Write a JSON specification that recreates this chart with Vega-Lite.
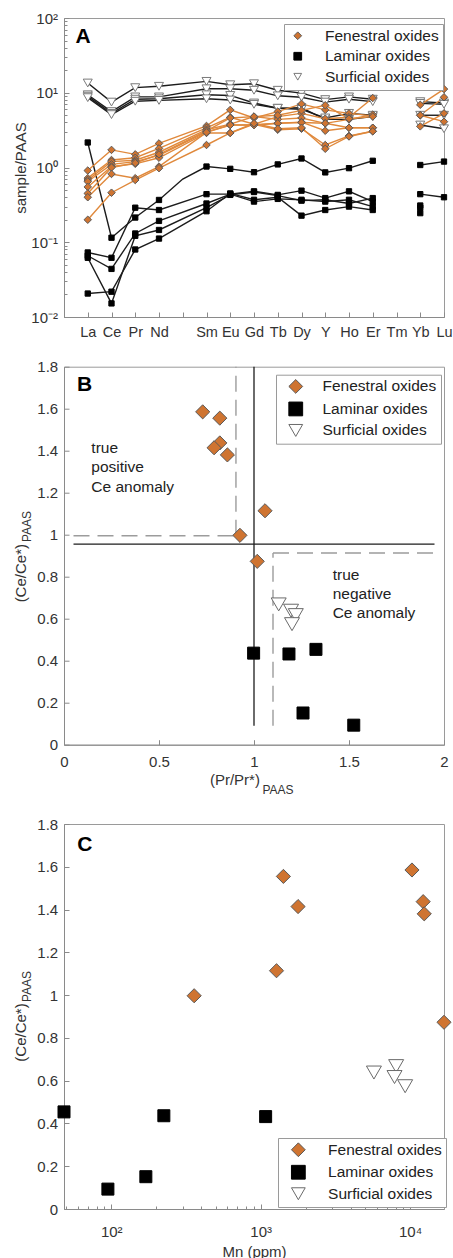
{
  "$schema": "https://vega.github.io/schema/vega-lite/v6.json",
  "background": "white",
  "padding": {"left": 13, "top": 10, "right": 0, "bottom": 0},
  "bounds": "flush",
  "spacing": 49.7,
  "resolve": {"scale": {"fill": "independent", "stroke": "independent", "shape": "independent"}, "legend": {"fill": "independent", "stroke": "independent", "shape": "independent"}},
  "config": {
    "font": "Liberation Sans",
    "view": {"stroke": "#9a9a9a", "strokeWidth": 1},
    "axis": {"grid": false, "labelOverlap": false, "domainColor": "#8a8a8a", "tickColor": "#8a8a8a", "labelColor": "#333333", "titleColor": "#333333", "labelFontSize": 15, "titleFontSize": 15, "titleFontWeight": "normal", "labelFont": "Liberation Sans", "titleFont": "Liberation Sans"},
    "legend": {"labelFont": "Liberation Sans", "labelFontSize": 15.5, "labelColor": "#222222", "strokeColor": "#9a9a9a", "fillColor": "#ffffff", "cornerRadius": 0},
    "text": {"font": "Liberation Sans"}
  },
  "datasets": {
    "ree": [
      {"s": "L1", "g": "Laminar oxides", "La": 2.16, "Ce": 0.115, "Pr": 0.214, "Nd": 0.368, "Pm": 0.7, "Sm": 1.03, "Eu": 0.96, "Gd": 0.865, "Tb": 1.1, "Dy": 1.32, "Y": 0.86, "Ho": 0.98, "Er": 1.23, "Yb": 1.08, "Lu": 1.2},
      {"s": "L2", "g": "Laminar oxides", "La": 0.073, "Ce": 0.062, "Pr": 0.29, "Nd": 0.27, "Sm": 0.44, "Eu": 0.44, "Gd": 0.48, "Tb": 0.43, "Dy": 0.49, "Y": 0.39, "Ho": 0.48, "Er": 0.35, "Yb": 0.44, "Lu": 0.4},
      {"s": "L3", "g": "Laminar oxides", "La": 0.066, "Ce": 0.044, "Pr": 0.131, "Nd": 0.193, "Sm": 0.33, "Eu": 0.44, "Gd": 0.35, "Tb": 0.38, "Dy": 0.37, "Y": 0.35, "Ho": 0.37, "Er": 0.3, "Yb": 0.31},
      {"s": "L4", "g": "Laminar oxides", "La": 0.062, "Ce": 0.0152, "Pr": 0.122, "Nd": 0.146, "Sm": 0.29, "Eu": 0.43, "Gd": 0.47, "Tb": 0.42, "Dy": 0.36, "Y": 0.37, "Ho": 0.33, "Er": 0.39, "Yb": 0.245},
      {"s": "L5", "g": "Laminar oxides", "La": 0.0206, "Ce": 0.0218, "Pr": 0.08, "Nd": 0.112, "Sm": 0.26, "Eu": 0.45, "Gd": 0.37, "Tb": 0.4, "Dy": 0.227, "Y": 0.27, "Ho": 0.3, "Er": 0.27, "Yb": 0.29},
      {"s": "S1", "g": "Surficial oxides", "La": 13.5, "Ce": 7.5, "Pr": 11.7, "Nd": 12.2, "Sm": 14.2, "Eu": 12.8, "Gd": 13.2, "Tb": 10.8, "Dy": 9.9, "Y": 8.1, "Ho": 8.8, "Er": 8.2, "Yb": 7.6, "Lu": 7.3},
      {"s": "S2", "g": "Surficial oxides", "La": 9.4, "Ce": 5.6, "Pr": 8.8, "Nd": 8.8, "Sm": 11.3, "Eu": 11.3, "Gd": 10.8, "Tb": 9.1, "Dy": 8.7, "Y": 7.5, "Ho": 8.2, "Er": 7.6, "Yb": 7.2, "Lu": 7.0},
      {"s": "S3", "g": "Surficial oxides", "La": 9.0, "Ce": 5.3, "Pr": 8.2, "Nd": 8.3, "Sm": 9.4, "Eu": 9.2, "Gd": 7.3, "Tb": 6.2, "Dy": 6.3, "Y": 4.4, "Ho": 4.4, "Er": 4.8, "Yb": 5.0, "Lu": 5.0},
      {"s": "S4", "g": "Surficial oxides", "La": 8.6, "Ce": 5.1, "Pr": 7.7, "Nd": 7.9, "Sm": 8.3, "Eu": 8.0, "Gd": 7.0, "Tb": 6.2, "Dy": 6.0, "Y": 4.6, "Ho": 5.3, "Er": 5.0, "Yb": 3.7, "Lu": 3.3},
      {"s": "F1", "g": "Fenestral oxides", "La": 0.91, "Ce": 1.72, "Pr": 1.5, "Nd": 2.1, "Sm": 3.6, "Eu": 5.9, "Gd": 4.6, "Tb": 5.6, "Dy": 7.1, "Y": 5.9, "Ho": 5.3, "Er": 4.9, "Yb": 6.9, "Lu": 11.2},
      {"s": "F2", "g": "Fenestral oxides", "La": 0.72, "Ce": 1.26, "Pr": 1.35, "Nd": 1.8, "Sm": 3.4, "Eu": 4.7, "Gd": 3.8, "Tb": 4.8, "Dy": 5.3, "Y": 4.5, "Ho": 4.7, "Er": 8.5, "Yb": 5.0, "Lu": 8.7},
      {"s": "F3", "g": "Fenestral oxides", "La": 0.68, "Ce": 1.2, "Pr": 1.25, "Nd": 1.6, "Sm": 3.2, "Eu": 3.8, "Gd": 4.8, "Tb": 4.4, "Dy": 4.6, "Y": 3.9, "Ho": 4.4, "Er": 5.1, "Yb": 3.55, "Lu": 5.3},
      {"s": "F4", "g": "Fenestral oxides", "La": 0.65, "Ce": 1.1, "Pr": 1.2, "Nd": 1.45, "Sm": 3.0, "Eu": 3.7, "Gd": 3.7, "Tb": 3.9, "Dy": 4.05, "Y": 3.1, "Ho": 3.4, "Er": 3.4, "Yb": 5.0, "Lu": 4.1},
      {"s": "F5", "g": "Fenestral oxides", "La": 0.55, "Ce": 1.03, "Pr": 1.12, "Nd": 1.35, "Sm": 2.9, "Eu": 2.9, "Gd": 3.8, "Tb": 3.2, "Dy": 3.3, "Y": 2.0, "Ho": 2.65, "Er": 3.05},
      {"s": "F6", "g": "Fenestral oxides", "La": 0.45, "Ce": 1.0, "Pr": 1.15, "Nd": 1.5, "Sm": 3.1, "Eu": 4.6, "Gd": 4.8, "Tb": 5.0, "Dy": 5.8, "Y": 6.8, "Ho": 4.5, "Er": 4.8},
      {"s": "F7", "g": "Fenestral oxides", "La": 0.4, "Ce": 0.82, "Pr": 0.72, "Nd": 1.03, "Sm": 2.95, "Eu": 3.7, "Gd": 3.7, "Tb": 3.9, "Dy": 4.0, "Y": 3.9, "Ho": 3.4, "Er": 3.4},
      {"s": "F8", "g": "Fenestral oxides", "La": 0.2, "Ce": 0.46, "Pr": 0.68, "Nd": 0.98, "Sm": 2.0, "Eu": 2.9, "Gd": 3.9, "Tb": 3.3, "Dy": 3.4, "Y": 1.78, "Ho": 2.6, "Er": 3.05}
    ],
    "ratios": [
      {"g": "Fenestral oxides", "pr": 0.73, "ce": 1.585, "mn": 10300},
      {"g": "Fenestral oxides", "pr": 0.82, "ce": 1.555, "mn": 1420},
      {"g": "Fenestral oxides", "pr": 0.82, "ce": 1.437, "mn": 12240},
      {"g": "Fenestral oxides", "pr": 0.79, "ce": 1.414, "mn": 1780},
      {"g": "Fenestral oxides", "pr": 0.86, "ce": 1.38, "mn": 12440},
      {"g": "Fenestral oxides", "pr": 1.058, "ce": 1.114, "mn": 1277},
      {"g": "Fenestral oxides", "pr": 0.926, "ce": 0.997, "mn": 359},
      {"g": "Fenestral oxides", "pr": 1.017, "ce": 0.873, "mn": 16870},
      {"g": "Laminar oxides", "pr": 0.998, "ce": 0.436, "mn": 225},
      {"g": "Laminar oxides", "pr": 1.184, "ce": 0.432, "mn": 1080},
      {"g": "Laminar oxides", "pr": 1.326, "ce": 0.454, "mn": 48.3},
      {"g": "Laminar oxides", "pr": 1.258, "ce": 0.151, "mn": 170.5},
      {"g": "Laminar oxides", "pr": 1.525, "ce": 0.093, "mn": 95},
      {"g": "Surficial oxides", "pr": 1.13, "ce": 0.668, "mn": 8070},
      {"g": "Surficial oxides", "pr": 1.195, "ce": 0.638, "mn": 5730},
      {"g": "Surficial oxides", "pr": 1.22, "ce": 0.617, "mn": 7870},
      {"g": "Surficial oxides", "pr": 1.2, "ce": 0.574, "mn": 9270}
    ]
  },
  "vconcat": [
    {
      "width": 380,
      "height": 299,
      "data": {"name": "ree"},
      "layer": [
        {
          "transform": [{"fold": ["La", "Ce", "Pr", "Nd", "Pm", "Sm", "Eu", "Gd", "Tb", "Dy", "Y", "Ho", "Er"], "as": ["el", "v"]}, {"filter": "isValid(datum.v)"}],
          "mark": {"type": "line", "strokeWidth": 1.4},
          "encoding": {
            "x": {"field": "el", "type": "nominal", "title": null,
              "scale": {"type": "point", "padding": 0, "domain": [" ", "La", "Ce", "Pr", "Nd", "Pm", "Sm", "Eu", "Gd", "Tb", "Dy", "Y", "Ho", "Er", "Tm", "Yb", "Lu"]},
              "axis": {"title": null, "labelExpr": "datum.value == 'Pm' || datum.value == ' ' ? '' : datum.label", "labelAngle": 0, "labelOverlap": false, "labelFlush": false, "tickSize": -5, "labelPadding": 13.5, "labelBaseline": "top", "labelFontSize": 14.5,
                "encode": {"labels": {"update": {"dx": {"signal": "datum.value == 'Lu' ? -4.5 : 0"}}}}}},
            "y": {"field": "v", "type": "quantitative", "title": "sample/PAAS",
              "scale": {"type": "log", "domain": [0.01, 100], "nice": false},
              "axis": {"title": "sample/PAAS", "titlePadding": 2,
                "values": [0.01, 0.02, 0.03, 0.04, 0.05, 0.06, 0.07, 0.08, 0.09, 0.1, 0.2, 0.3, 0.4, 0.5, 0.6, 0.7, 0.8, 0.9, 1, 2, 3, 4, 5, 6, 7, 8, 9, 10, 20, 30, 40, 50, 60, 70, 80, 90, 100],
                "labelExpr": "datum.value == 100 ? '10²' : datum.value == 10 ? '10¹' : datum.value == 1 ? '10⁰' : datum.value == 0.1 ? '10⁻¹' : datum.value == 0.01 ? '10⁻²' : ''",
                "tickSize": {"condition": {"test": "indexof([0.01, 0.1, 1, 10, 100], datum.value) >= 0", "value": -5}, "value": -3},
                "labelPadding": 11.5}},
            "color": {"condition": {"test": "datum.g == 'Fenestral oxides'", "value": "#E0893C"}, "value": "#1c1c1c"},
            "detail": {"field": "s"},
            "order": {"value": null}
          }
        },
        {
          "transform": [{"fold": ["Yb", "Lu"], "as": ["el", "v"]}, {"filter": "isValid(datum.v)"}],
          "mark": {"type": "line", "strokeWidth": 1.4},
          "encoding": {
            "x": {"field": "el", "type": "nominal", "title": null, "scale": {"type": "point", "padding": 0, "domain": [" ", "La", "Ce", "Pr", "Nd", "Pm", "Sm", "Eu", "Gd", "Tb", "Dy", "Y", "Ho", "Er", "Tm", "Yb", "Lu"]}},
            "y": {"field": "v", "type": "quantitative", "title": "sample/PAAS", "scale": {"type": "log", "domain": [0.01, 100], "nice": false}},
            "color": {"condition": {"test": "datum.g == 'Fenestral oxides'", "value": "#E0893C"}, "value": "#1c1c1c"},
            "detail": {"field": "s"},
            "order": {"value": null}
          }
        },
        {
          "transform": [{"fold": ["La", "Ce", "Pr", "Nd", "Sm", "Eu", "Gd", "Tb", "Dy", "Y", "Ho", "Er", "Yb", "Lu"], "as": ["el", "v"]}, {"filter": "isValid(datum.v)"}],
          "mark": {"type": "point", "filled": true, "opacity": 1, "strokeWidth": 1},
          "encoding": {
            "x": {"field": "el", "type": "nominal", "title": null, "scale": {"type": "point", "padding": 0, "domain": [" ", "La", "Ce", "Pr", "Nd", "Pm", "Sm", "Eu", "Gd", "Tb", "Dy", "Y", "Ho", "Er", "Tm", "Yb", "Lu"]}},
            "y": {"field": "v", "type": "quantitative", "title": "sample/PAAS", "scale": {"type": "log", "domain": [0.01, 100], "nice": false}},
            "fill": {"field": "g", "type": "nominal", "scale": {"domain": ["Fenestral oxides", "Laminar oxides", "Surficial oxides"], "range": ["#CF7431", "#000000", "#ffffff"]},
              "legend": {"title": null, "orient": "none", "legendX": 220, "legendY": 6, "padding": 4, "rowPadding": 3.5, "symbolOffset": 2, "labelOffset": 19.5, "symbolStrokeWidth": 1, "symbolSize": 60}},
            "stroke": {"field": "g", "type": "nominal", "scale": {"domain": ["Fenestral oxides", "Laminar oxides", "Surficial oxides"], "range": ["#5a5a5a", "#000000", "#7a7a7a"]}},
            "shape": {"field": "g", "type": "nominal", "scale": {"domain": ["Fenestral oxides", "Laminar oxides", "Surficial oxides"], "range": ["diamond", "square", "triangle-down"]}},
            "size": {"condition": [{"test": "datum.g == 'Laminar oxides'", "value": 28}, {"test": "datum.g == 'Surficial oxides'", "value": 81}], "value": 56}
          }
        },
        {
          "data": {"values": [{"t": "A"}]},
          "mark": {"type": "text", "fontSize": 21, "fontWeight": "bold", "fill": "#000000", "align": "left", "baseline": "alphabetic", "dx": 11.5},
          "encoding": {
            "text": {"field": "t", "type": "nominal"},
            "x": {"datum": " ", "type": "nominal", "scale": {"type": "point", "padding": 0, "domain": [" ", "La", "Ce", "Pr", "Nd", "Pm", "Sm", "Eu", "Gd", "Tb", "Dy", "Y", "Ho", "Er", "Tm", "Yb", "Lu"]}},
            "y": {"datum": 46.4, "type": "quantitative", "scale": {"type": "log", "domain": [0.01, 100], "nice": false}}
          }
        }
      ]
    },
    {
      "bounds": "flush",
      "spacing": 79.3,
      "resolve": {"scale": {"fill": "independent", "stroke": "independent", "shape": "independent"}, "legend": {"fill": "independent", "stroke": "independent", "shape": "independent"}},
      "vconcat": [
        {
          "width": 380,
          "height": 378,
          "layer": [
            {
              "data": {"values": [{"pr": 1, "pr2": 1, "ce": 0.09, "ce2": 1.8}, {"pr": 0.05, "pr2": 1.95, "ce": 0.955, "ce2": 0.955}]},
              "mark": {"type": "rule", "color": "#1c1c1c", "strokeWidth": 1.3},
              "encoding": {
                "x": {"field": "pr", "type": "quantitative", "title": null,
                  "scale": {"domain": [0, 2], "nice": false, "zero": false},
                  "axis": {"title": null, "labelOverlap": false, "values": [0, 0.5, 1, 1.5, 2], "format": "~g",
                    "tickSize": -5, "labelPadding": 15, "labelFlush": false}},
                "y": {"field": "ce", "type": "quantitative", "title": "(Ce/Ce*)",
                  "scale": {"domain": [0, 1.8], "nice": false, "zero": false},
                  "axis": {"title": "(Ce/Ce*)", "titleY": 206, "titlePadding": 8, "labelOverlap": false,
                    "values": [0, 0.05, 0.1, 0.15, 0.2, 0.25, 0.3, 0.35, 0.4, 0.45, 0.5, 0.55, 0.6, 0.65, 0.7, 0.75, 0.8, 0.85, 0.9, 0.95, 1, 1.05, 1.1, 1.15, 1.2, 1.25, 1.3, 1.35, 1.4, 1.45, 1.5, 1.55, 1.6, 1.65, 1.7, 1.75, 1.8],
                    "labelExpr": "abs(datum.value * 5 - round(datum.value * 5)) < 0.001 ? format(datum.value, '~g') : ''",
                    "tickSize": {"condition": {"test": "abs(datum.value * 5 - round(datum.value * 5)) < 0.001", "value": -5}, "value": -3},
                    "labelPadding": 11.3, "labelFlush": false}},
                "x2": {"field": "pr2"},
                "y2": {"field": "ce2"}
              }
            },
            {
              "data": {"values": [{"pr": 0.905, "pr2": 0.905, "ce": 0.995, "ce2": 1.8}, {"pr": 0.05, "pr2": 0.905, "ce": 0.995, "ce2": 0.995}, {"pr": 1.1, "pr2": 1.95, "ce": 0.913, "ce2": 0.913}, {"pr": 1.1, "pr2": 1.1, "ce": 0.09, "ce2": 0.913}]},
              "mark": {"type": "rule", "color": "#9c9c9c", "strokeWidth": 1.4, "strokeDash": [16, 8]},
              "encoding": {
                "x": {"field": "pr", "type": "quantitative", "title": null, "scale": {"domain": [0, 2], "nice": false, "zero": false}},
                "y": {"field": "ce", "type": "quantitative", "title": "(Ce/Ce*)", "scale": {"domain": [0, 1.8], "nice": false, "zero": false}},
                "x2": {"field": "pr2"},
                "y2": {"field": "ce2"}
              }
            },
            {
              "data": {"name": "ratios"},
              "mark": {"type": "point", "filled": true, "opacity": 1, "strokeWidth": 1},
              "encoding": {
                "x": {"field": "pr", "type": "quantitative", "title": null, "scale": {"domain": [0, 2], "nice": false, "zero": false}},
                "y": {"field": "ce", "type": "quantitative", "title": "(Ce/Ce*)", "scale": {"domain": [0, 1.8], "nice": false, "zero": false}},
                "fill": {"field": "g", "type": "nominal", "scale": {"domain": ["Fenestral oxides", "Laminar oxides", "Surficial oxides"], "range": ["#CF7431", "#000000", "#ffffff"]},
                  "legend": {"title": null, "orient": "none", "legendX": 212, "legendY": 8, "padding": 4, "rowPadding": 3.5, "symbolOffset": 8, "labelOffset": 19, "symbolStrokeWidth": 1, "symbolSize": 190}},
                "stroke": {"field": "g", "type": "nominal", "scale": {"domain": ["Fenestral oxides", "Laminar oxides", "Surficial oxides"], "range": ["#5a5a5a", "#000000", "#6a6a6a"]}},
                "shape": {"field": "g", "type": "nominal", "scale": {"domain": ["Fenestral oxides", "Laminar oxides", "Surficial oxides"], "range": ["diamond", "square", "triangle-down"]}},
                "size": {"condition": [{"test": "datum.g == 'Laminar oxides'", "value": 144}, {"test": "datum.g == 'Surficial oxides'", "value": 225}], "value": 200}
              }
            },
            {
              "data": {"values": [{"t": "true\npositive\nCe anomaly"}]},
              "mark": {"type": "text", "lineBreak": "\n", "lineHeight": 19.3, "fontSize": 15.5, "fill": "#222222", "align": "left", "baseline": "alphabetic"},
              "encoding": {"text": {"field": "t", "type": "nominal"}, "x": {"datum": 0.144, "type": "quantitative", "scale": {"domain": [0, 2], "nice": false, "zero": false}}, "y": {"datum": 1.389, "type": "quantitative", "scale": {"domain": [0, 1.8], "nice": false, "zero": false}}}
            },
            {
              "data": {"values": [{"t": "true\nnegative\nCe anomaly"}]},
              "mark": {"type": "text", "lineBreak": "\n", "lineHeight": 19.3, "fontSize": 15.5, "fill": "#222222", "align": "left", "baseline": "alphabetic"},
              "encoding": {"text": {"field": "t", "type": "nominal"}, "x": {"datum": 1.414, "type": "quantitative", "scale": {"domain": [0, 2], "nice": false, "zero": false}}, "y": {"datum": 0.786, "type": "quantitative", "scale": {"domain": [0, 1.8], "nice": false, "zero": false}}}
            },
            {
              "data": {"values": [{"t": "B"}]},
              "mark": {"type": "text", "fontSize": 21, "fontWeight": "bold", "fill": "#000000", "align": "left", "baseline": "alphabetic"},
              "encoding": {"text": {"field": "t", "type": "nominal"}, "x": {"datum": 0.068, "type": "quantitative", "scale": {"domain": [0, 2], "nice": false, "zero": false}}, "y": {"datum": 1.684, "type": "quantitative", "scale": {"domain": [0, 1.8], "nice": false, "zero": false}}}
            },
            {
              "data": {"values": [{"t": "(Pr/Pr*)"}]},
              "mark": {"type": "text", "fontSize": 15, "fill": "#333333", "align": "left", "baseline": "alphabetic"},
              "encoding": {"text": {"field": "t", "type": "nominal"}, "x": {"datum": 0.768, "type": "quantitative", "scale": {"domain": [0, 2], "nice": false, "zero": false}}, "y": {"datum": -0.19, "type": "quantitative", "scale": {"domain": [0, 1.8], "nice": false, "zero": false}}}
            },
            {
              "data": {"values": [{"t": "PAAS"}]},
              "mark": {"type": "text", "fontSize": 12, "fill": "#333333", "align": "center", "baseline": "alphabetic"},
              "encoding": {"text": {"field": "t", "type": "nominal"}, "x": {"datum": 1.126, "type": "quantitative", "scale": {"domain": [0, 2], "nice": false, "zero": false}}, "y": {"datum": -0.235, "type": "quantitative", "scale": {"domain": [0, 1.8], "nice": false, "zero": false}}}
            },
            {
              "data": {"values": [{"t": "PAAS"}]},
              "mark": {"type": "text", "fontSize": 12, "fill": "#333333", "align": "center", "baseline": "middle", "angle": 270},
              "encoding": {"text": {"field": "t", "type": "nominal"}, "x": {"datum": -0.195, "type": "quantitative", "scale": {"domain": [0, 2], "nice": false, "zero": false}}, "y": {"datum": 1.039, "type": "quantitative", "scale": {"domain": [0, 1.8], "nice": false, "zero": false}}}
            }
          ]
        },
        {
          "width": 380,
          "height": 385,
          "layer": [
            {
              "data": {"name": "ratios"},
              "mark": {"type": "point", "filled": true, "opacity": 1, "strokeWidth": 1},
              "encoding": {
                "x": {"field": "mn", "type": "quantitative", "title": "Mn (ppm)",
                  "scale": {"type": "log", "domain": [48.3, 16870], "nice": false},
                  "axis": {"title": "Mn (ppm)", "titlePadding": 3, "labelOverlap": false,
                    "values": [50, 60, 70, 80, 90, 100, 200, 300, 400, 500, 600, 700, 800, 900, 1000, 2000, 3000, 4000, 5000, 6000, 7000, 8000, 9000, 10000],
                    "labelExpr": "datum.value == 100 ? '10²' : datum.value == 1000 ? '10³' : datum.value == 10000 ? '10⁴' : ''",
                    "tickSize": {"condition": {"test": "indexof([100, 1000, 10000], datum.value) >= 0", "value": -5}, "value": -3},
                    "labelPadding": 20, "labelFlush": false}},
                "y": {"field": "ce", "type": "quantitative", "title": "(Ce/Ce*)",
                  "scale": {"domain": [0, 1.8], "nice": false, "zero": false},
                  "axis": {"title": "(Ce/Ce*)", "titleY": 208, "titlePadding": 8, "labelOverlap": false,
                    "values": [0, 0.05, 0.1, 0.15, 0.2, 0.25, 0.3, 0.35, 0.4, 0.45, 0.5, 0.55, 0.6, 0.65, 0.7, 0.75, 0.8, 0.85, 0.9, 0.95, 1, 1.05, 1.1, 1.15, 1.2, 1.25, 1.3, 1.35, 1.4, 1.45, 1.5, 1.55, 1.6, 1.65, 1.7, 1.75, 1.8],
                    "labelExpr": "abs(datum.value * 5 - round(datum.value * 5)) < 0.001 ? format(datum.value, '~g') : ''",
                    "tickSize": {"condition": {"test": "abs(datum.value * 5 - round(datum.value * 5)) < 0.001", "value": -5}, "value": -3},
                    "labelPadding": 11.3, "labelFlush": false}},
                "fill": {"field": "g", "type": "nominal", "scale": {"domain": ["Fenestral oxides", "Laminar oxides", "Surficial oxides"], "range": ["#CF7431", "#000000", "#ffffff"]},
                  "legend": {"title": null, "orient": "none", "legendX": 214, "legendY": 314, "padding": 4, "rowPadding": 3.5, "symbolOffset": 8.6, "labelOffset": 22, "symbolStrokeWidth": 1, "symbolSize": 190}},
                "stroke": {"field": "g", "type": "nominal", "scale": {"domain": ["Fenestral oxides", "Laminar oxides", "Surficial oxides"], "range": ["#5a5a5a", "#000000", "#6a6a6a"]}},
                "shape": {"field": "g", "type": "nominal", "scale": {"domain": ["Fenestral oxides", "Laminar oxides", "Surficial oxides"], "range": ["diamond", "square", "triangle-down"]}},
                "size": {"condition": [{"test": "datum.g == 'Laminar oxides'", "value": 144}, {"test": "datum.g == 'Surficial oxides'", "value": 225}], "value": 200}
              }
            },
            {
              "data": {"values": [{"t": "C"}]},
              "mark": {"type": "text", "fontSize": 21, "fontWeight": "bold", "fill": "#000000", "align": "left", "baseline": "alphabetic"},
              "encoding": {"text": {"field": "t", "type": "nominal"}, "x": {"datum": 59.2, "type": "quantitative", "scale": {"type": "log", "domain": [48.3, 16870], "nice": false}}, "y": {"datum": 1.674, "type": "quantitative", "scale": {"domain": [0, 1.8], "nice": false, "zero": false}}}
            },
            {
              "data": {"values": [{"t": "PAAS"}]},
              "mark": {"type": "text", "fontSize": 12, "fill": "#333333", "align": "center", "baseline": "middle", "angle": 270},
              "encoding": {"text": {"field": "t", "type": "nominal"}, "x": {"datum": 27.5, "type": "quantitative", "scale": {"type": "log", "domain": [48.3, 16870], "nice": false}}, "y": {"datum": 1.04, "type": "quantitative", "scale": {"domain": [0, 1.8], "nice": false, "zero": false}}}
            }
          ]
        }
      ]
    }
  ]
}
